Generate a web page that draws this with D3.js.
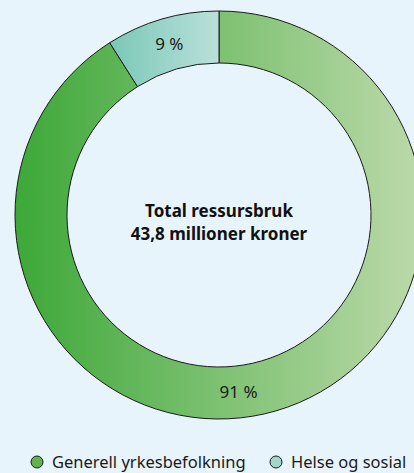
<!DOCTYPE html>
<html>
<head>
<meta charset="utf-8">
<script src="https://cdn.jsdelivr.net/npm/d3@7"></script>
<style>
  html, body { margin: 0; padding: 0; background: #e8f4fc; }
  svg { display: block; font-family: "Noto Sans", sans-serif; }
</style>
</head>
<body>
<div id="chart"></div>
<script>
// Data
var categories = ["Generell yrkesbefolkning", "Helse og sosial"];
var shares = [91, 9];
var labels = ["91 %", "9 %"];
var centerLines = ["Total ressursbruk", "43,8 millioner kroner"];

var params = {
    "width": 414,
    "height": 473,
    "cx": 219,
    "cy": 215,
    "outer": 204,
    "inner": 152
};

// gradient stops per slice (left -> right)
var gradients = [["#3da838", "#bddaab"], ["#7ac8b8", "#bae0d9"]];
var legendColors = ["#63b34c", "#a2d6c9"];

var svg = d3.select("#chart").append("svg")
    .attr("width", params.width)
    .attr("height", params.height);

var defs = svg.append("defs");
gradients.forEach(function(g, i) {
    var lg = defs.append("linearGradient")
        .attr("id", "grad" + i)
        .attr("x1", "0%").attr("x2", "100%")
        .attr("y1", "0%").attr("y2", "0%");
    lg.append("stop").attr("offset", "0%").attr("stop-color", g[0]);
    lg.append("stop").attr("offset", "100%").attr("stop-color", g[1]);
});

var pie = d3.pie().sort(null).value(function(d) { return d; });
var arcs = pie(shares);

var arc = d3.arc().innerRadius(params.inner).outerRadius(params.outer);

var g = svg.append("g")
    .attr("transform", "translate(" + params.cx + "," + params.cy + ")");

g.selectAll("path.slice")
    .data(arcs)
    .enter().append("path")
    .attr("class", "slice")
    .attr("d", arc)
    .attr("fill", function(d, i) { return "url(#grad" + i + ")"; })
    .attr("stroke", "#1a1a1a")
    .attr("stroke-width", 1);

// slice labels - big slice label sits near the bottom of the ring
var labelR = (params.inner + params.outer) / 2;
g.selectAll("text.lbl")
    .data(arcs)
    .enter().append("text")
    .attr("class", "lbl")
    .attr("transform", function(d) {
        var a = (d.endAngle - d.startAngle) > Math.PI ? Math.PI * 0.965 : (d.startAngle + d.endAngle) / 2;
        return "translate(" + (Math.sin(a) * labelR) + "," + (-Math.cos(a) * labelR) + ")";
    })
    .attr("text-anchor", "middle")
    .attr("dy", "0.35em")
    .style("font-size", "17px")
    .style("fill", "#1a1a1a")
    .text(function(d, i) { return labels[i]; });

// center text
g.selectAll("text.center")
    .data(centerLines)
    .enter().append("text")
    .attr("class", "center")
    .attr("text-anchor", "middle")
    .attr("y", function(d, i) { return 2 + i * 23; })
    .style("font-size", "17px")
    .style("font-weight", "bold")
    .style("fill", "#111")
    .text(function(d) { return d; });

// legend
var legendX = [37, 276];
var legend = svg.selectAll("g.legend")
    .data(categories)
    .enter().append("g")
    .attr("class", "legend")
    .attr("transform", function(d, i) { return "translate(" + legendX[i] + ",462)"; });

legend.append("circle")
    .attr("r", 6)
    .attr("fill", function(d, i) { return legendColors[i]; })
    .attr("stroke", "#1a1a1a")
    .attr("stroke-width", 1);

legend.append("text")
    .attr("x", 15)
    .attr("dy", "0.35em")
    .style("font-size", "16.5px")
    .style("fill", "#1a1a1a")
    .text(function(d) { return d; });
</script>
</body>
</html>
